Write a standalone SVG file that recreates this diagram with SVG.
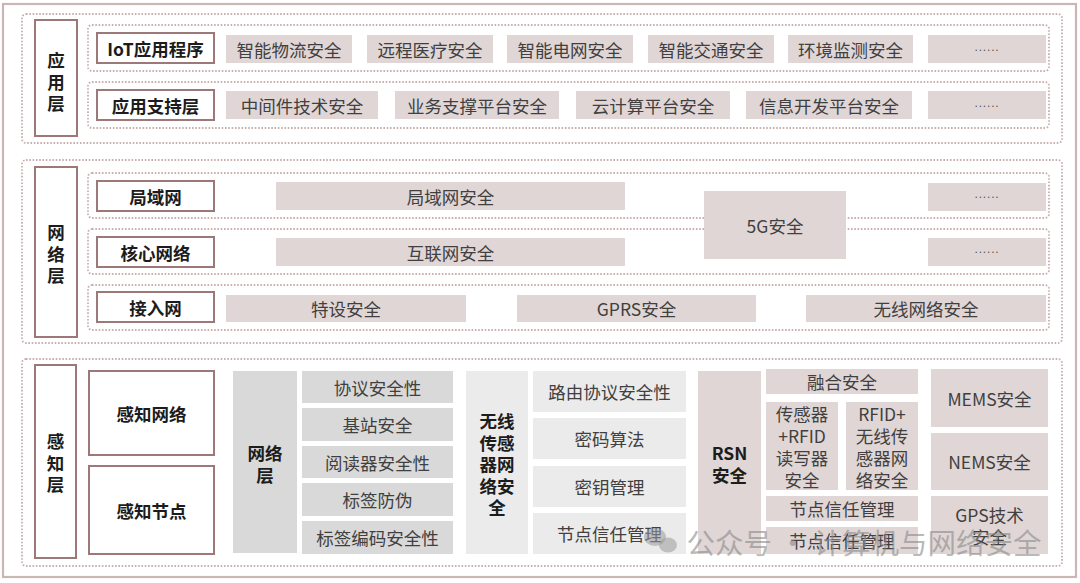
<svg xmlns="http://www.w3.org/2000/svg" width="1080" height="583" viewBox="0 0 1080 583">
<style>
text{font-family:"Noto Sans CJK SC","Noto Sans",sans-serif;dominant-baseline:central;text-anchor:middle}
.frame{fill:#fff;stroke:#cbb6b6;stroke-width:2.2}
.dot{fill:none;stroke:#c9afaf;stroke-width:1.8;stroke-dasharray:1.6 1.7}
.lab{fill:#fff;stroke:#9c7878;stroke-width:2}
.lt{font-size:17.5px;font-weight:700;fill:#1c1c1c}
.g{fill:#e0d6d6}
.gt{font-size:17.5px;fill:#404040}
.p1{fill:#d9d9d9}
.p2{fill:#ebebeb}
.el{font-family:"Liberation Sans",sans-serif;font-size:12px;fill:#555;letter-spacing:0.8px;dominant-baseline:auto}
.wm{font-size:28.5px;fill:#8a8a8a;fill-opacity:0.6}
</style>
<rect x="0" y="0" width="1080" height="583" fill="#fff"/>
<rect class="frame" x="3" y="4" width="1073" height="573"/>

<!-- Application layer -->
<g id="app-layer">
<rect class="dot" x="22" y="14" width="1040" height="129" rx="4"/>
<rect class="dot" x="88" y="25" width="961" height="46" rx="4"/>
<rect class="dot" x="88" y="82" width="961" height="46" rx="4"/>
<rect class="lab" x="35" y="20" width="42" height="116"/>
<text class="lt"><tspan x="56" y="59">应</tspan><tspan x="56" dy="21.5">用</tspan><tspan x="56" dy="21.5">层</tspan></text>
</g>
<g id="iot-app"><rect class="lab" x="97" y="33" width="117" height="30"/><text class="lt" x="155.5" y="48">IoT应用程序</text></g>
<g id="app-support"><rect class="lab" x="97" y="90" width="117" height="30"/><text class="lt" x="155.5" y="105">应用支持层</text></g>
<g id="a1"><rect class="g" x="226" y="35" width="126" height="28"/><text class="gt" x="289" y="49">智能物流安全</text></g>
<g id="a2"><rect class="g" x="367" y="35" width="126" height="28"/><text class="gt" x="430" y="49">远程医疗安全</text></g>
<g id="a3"><rect class="g" x="507" y="35" width="126" height="28"/><text class="gt" x="570" y="49">智能电网安全</text></g>
<g id="a4"><rect class="g" x="648" y="35" width="126" height="28"/><text class="gt" x="711" y="49">智能交通安全</text></g>
<g id="a5"><rect class="g" x="788" y="35" width="125" height="28"/><text class="gt" x="850.5" y="49">环境监测安全</text></g>
<g id="a6"><rect class="g" x="928" y="35" width="118" height="28"/><text class="el" x="987" y="51">......</text></g>
<g id="b1"><rect class="g" x="226" y="91" width="152" height="28"/><text class="gt" x="302" y="105">中间件技术安全</text></g>
<g id="b2"><rect class="g" x="395" y="91" width="164" height="28"/><text class="gt" x="477" y="105">业务支撑平台安全</text></g>
<g id="b3"><rect class="g" x="576" y="91" width="154" height="28"/><text class="gt" x="653" y="105">云计算平台安全</text></g>
<g id="b4"><rect class="g" x="746" y="91" width="166" height="28"/><text class="gt" x="829" y="105">信息开发平台安全</text></g>
<g id="b5"><rect class="g" x="928" y="91" width="118" height="28"/><text class="el" x="987" y="107">......</text></g>

<!-- Network layer -->
<g id="net-layer">
<rect class="dot" x="22" y="160" width="1040" height="183" rx="4"/>
<rect class="dot" x="88" y="173" width="961" height="45" rx="4"/>
<rect class="dot" x="88" y="229" width="961" height="45" rx="4"/>
<rect class="dot" x="88" y="285" width="961" height="45" rx="4"/>
<rect class="lab" x="35" y="167" width="42" height="170"/>
<text class="lt"><tspan x="56" y="231">网</tspan><tspan x="56" dy="21.5">络</tspan><tspan x="56" dy="21.5">层</tspan></text>
</g>
<g id="lan"><rect class="lab" x="97" y="181" width="117" height="30"/><text class="lt" x="155.5" y="196">局域网</text></g>
<g id="core"><rect class="lab" x="97" y="237" width="117" height="30"/><text class="lt" x="155.5" y="252">核心网络</text></g>
<g id="access"><rect class="lab" x="97" y="292" width="117" height="30"/><text class="lt" x="155.5" y="307">接入网</text></g>
<g id="n1"><rect class="g" x="276" y="182" width="349" height="28"/><text class="gt" x="450.5" y="196">局域网安全</text></g>
<g id="n2"><rect class="g" x="276" y="238" width="349" height="28"/><text class="gt" x="450.5" y="252">互联网安全</text></g>
<g id="n5g"><rect class="g" x="704" y="191" width="142" height="68"/><text class="gt" x="775" y="225">5G安全</text></g>
<g id="n3"><rect class="g" x="928" y="183" width="118" height="28"/><text class="el" x="987" y="198">......</text></g>
<g id="n4"><rect class="g" x="928" y="238" width="118" height="28"/><text class="el" x="987" y="253">......</text></g>
<g id="n6"><rect class="g" x="226" y="295" width="240" height="27"/><text class="gt" x="346" y="308.5">特设安全</text></g>
<g id="n7"><rect class="g" x="517" y="295" width="239" height="27"/><text class="gt" x="636.5" y="308.5">GPRS安全</text></g>
<g id="n8"><rect class="g" x="806" y="295" width="240" height="27"/><text class="gt" x="926" y="308.5">无线网络安全</text></g>

<!-- Perception layer -->
<g id="per-layer">
<rect class="dot" x="22" y="359" width="1040" height="207" rx="4"/>
<rect class="lab" x="35" y="365" width="41" height="193"/>
<text class="lt"><tspan x="55.5" y="440">感</tspan><tspan x="55.5" dy="21.5">知</tspan><tspan x="55.5" dy="21.5">层</tspan></text>
</g>
<g id="sense-net"><rect class="lab" x="89" y="371" width="125" height="84"/><text class="lt" x="151.5" y="413">感知网络</text></g>
<g id="sense-node"><rect class="lab" x="89" y="466" width="125" height="88"/><text class="lt" x="151.5" y="510">感知节点</text></g>
<g id="p-net"><rect class="p1" x="233" y="371" width="64" height="182"/><text class="lt"><tspan x="265" y="452">网络</tspan><tspan x="265" dy="21.5">层</tspan></text></g>
<g id="p1"><rect class="p1" x="302" y="371" width="151" height="32"/><text class="gt" x="377.5" y="387">协议安全性</text></g>
<g id="p2"><rect class="p1" x="302" y="408" width="151" height="33"/><text class="gt" x="377.5" y="424.5">基站安全</text></g>
<g id="p3"><rect class="p1" x="302" y="446" width="151" height="32"/><text class="gt" x="377.5" y="462">阅读器安全性</text></g>
<g id="p4"><rect class="p1" x="302" y="483" width="151" height="33"/><text class="gt" x="377.5" y="499.5">标签防伪</text></g>
<g id="p5"><rect class="p1" x="302" y="521" width="151" height="33"/><text class="gt" x="377.5" y="537.5">标签编码安全性</text></g>
<g id="wsn"><rect class="p2" x="466" y="371" width="62" height="183"/>
<text class="lt"><tspan x="497" y="420">无线</tspan><tspan x="497" dy="21.5">传感</tspan><tspan x="497" dy="21.5">器网</tspan><tspan x="497" dy="21.5">络安</tspan><tspan x="497" dy="21.5">全</tspan></text></g>
<g id="w1"><rect class="p2" x="533" y="371" width="153" height="41"/><text class="gt" x="609.5" y="391.5">路由协议安全性</text></g>
<g id="w2"><rect class="p2" x="533" y="418" width="153" height="41"/><text class="gt" x="609.5" y="438.5">密码算法</text></g>
<g id="w3"><rect class="p2" x="533" y="466" width="153" height="41"/><text class="gt" x="609.5" y="486.5">密钥管理</text></g>
<g id="w4"><rect class="p2" x="533" y="513" width="153" height="41"/><text class="gt" x="609.5" y="533.5">节点信任管理</text></g>
<g id="rsn"><rect class="g" x="698" y="371" width="63" height="183"/><text class="lt"><tspan x="729.5" y="452">RSN</tspan><tspan x="729.5" dy="21.5">安全</tspan></text></g>
<g id="r1"><rect class="g" x="766" y="369" width="152" height="25"/><text class="gt" x="842" y="381.5">融合安全</text></g>
<g id="r2"><rect class="g" x="766" y="402" width="72" height="88"/>
<text class="gt"><tspan x="802" y="413">传感器</tspan><tspan x="802" dy="22">+RFID</tspan><tspan x="802" dy="22">读写器</tspan><tspan x="802" dy="22">安全</tspan></text></g>
<g id="r3"><rect class="g" x="846" y="402" width="72" height="88"/>
<text class="gt"><tspan x="882" y="413">RFID+</tspan><tspan x="882" dy="22">无线传</tspan><tspan x="882" dy="22">感器网</tspan><tspan x="882" dy="22">络安全</tspan></text></g>
<g id="r4"><rect class="g" x="766" y="496" width="152" height="25"/><text class="gt" x="842" y="508.5">节点信任管理</text></g>
<g id="r5"><rect class="g" x="766" y="527" width="152" height="27"/><text class="gt" x="842" y="540.5">节点信任管理</text></g>
<g id="m1"><rect class="g" x="931" y="369" width="117" height="58"/><text class="gt" x="989.5" y="398">MEMS安全</text></g>
<g id="m2"><rect class="g" x="931" y="433" width="117" height="57"/><text class="gt" x="989.5" y="461.5">NEMS安全</text></g>
<g id="m3"><rect class="g" x="931" y="496" width="117" height="58"/><text class="gt"><tspan x="989.5" y="514">GPS技术</tspan><tspan x="989.5" dy="22">安全</tspan></text></g>

<g id="connectors"></g>

<g id="watermark">
<ellipse cx="655" cy="537" rx="11" ry="9" fill="#9a9a9a" fill-opacity="0.55"/>
<ellipse cx="668" cy="545" rx="9" ry="7.5" fill="#9a9a9a" fill-opacity="0.55"/>
<text class="wm" x="864" y="541">公众号 · 计算机与网络安全</text>
</g>
</svg>
